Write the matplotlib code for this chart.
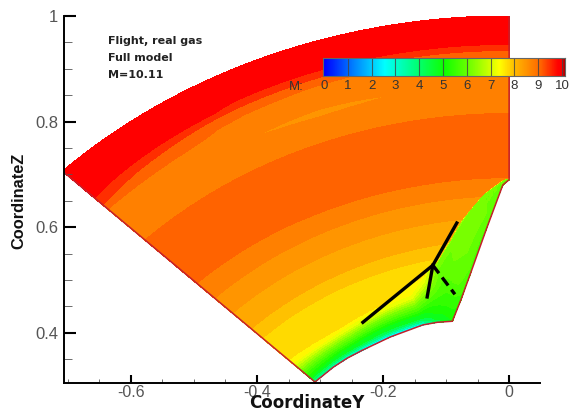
import numpy as np
import matplotlib
matplotlib.use('Agg')
import matplotlib.pyplot as plt
from matplotlib.colors import LinearSegmentedColormap, Normalize

plt.rcParams['font.family'] = ['Liberation Sans', 'DejaVu Sans']

# inner wall of the section, root to symmetry plane
wall_y = [-0.308, -0.279, -0.257, -0.233, -0.189, -0.137, -0.114, -0.090, -0.076, -0.062, -0.035, -0.010, 0.0]
wall_z = [0.307, 0.335, 0.352, 0.367, 0.392, 0.415, 0.420, 0.422, 0.464, 0.510, 0.600, 0.680, 0.690]
# radius of the top of the wall layer / shock at those stations
layer_top = [0.495, 0.492, 0.490, 0.490, 0.495, 0.500, 0.525, 0.548, 0.583, 0.620, 0.667, 0.691, 0.694]

# Mach inside the layer: rows are fraction wall to layer top, columns are wall stations
layer_frac = [0.0, 0.08, 0.2, 0.4, 0.65, 0.85, 1.0]
layer_mach = [
    [3.0, 2.8, 2.6, 2.3, 2.2, 2.4, 4.0, 5.0, 5.3, 5.5, 5.5, 5.5, 5.5],
    [4.0, 3.6, 3.4, 3.2, 3.1, 3.3, 4.6, 5.1, 5.5, 5.7, 5.7, 5.7, 5.7],
    [5.0, 4.8, 4.6, 4.5, 4.4, 4.5, 5.0, 5.2, 5.7, 5.9, 5.9, 5.9, 5.9],
    [5.6, 5.5, 5.4, 5.3, 5.2, 5.3, 5.3, 5.4, 5.9, 6.0, 6.0, 6.0, 6.0],
    [6.6, 6.5, 6.4, 6.3, 6.2, 6.2, 6.1, 5.7, 6.0, 6.1, 6.0, 6.0, 6.0],
    [7.3, 7.3, 7.2, 7.1, 7.1, 7.0, 6.9, 5.9, 6.0, 6.1, 6.0, 6.0, 6.0],
    [7.5, 7.5, 7.5, 7.45, 7.4, 7.35, 7.3, 6.3, 6.3, 6.3, 6.2, 6.2, 6.2],
]

# Mach outside the layer: rows are radius, columns are angle from the symmetry plane
outer_phi = [45, 30, 27.5, 20, 12.5, 0]
outer_r = [0.40, 0.47, 0.49, 0.514, 0.54, 0.553, 0.578, 0.62, 0.66, 0.70, 0.745, 0.815, 0.855, 0.87, 0.885,
           0.899, 0.911, 0.92, 0.929, 0.94, 0.95, 0.966, 1.0]
outer_mach = [
    [7.45, 7.45, 7.4, 7.3, 7.25, 7.25],
    [7.5, 7.5, 7.45, 7.35, 7.3, 7.3],
    [7.55, 7.55, 7.52, 7.45, 7.35, 7.35],
    [7.6, 7.6, 7.6, 7.52, 7.42, 7.42],
    [7.7, 7.7, 7.7, 7.65, 7.5, 7.5],
    [7.75, 7.75, 7.75, 7.75, 7.75, 7.75],
    [8.0, 8.0, 8.0, 8.0, 8.0, 8.0],
    [8.25, 8.25, 8.25, 8.25, 8.25, 8.25],
    [8.5, 8.5, 8.5, 8.5, 8.5, 8.5],
    [8.8, 8.82, 8.83, 8.84, 8.85, 8.85],
    [8.95, 8.95, 8.95, 8.95, 8.95, 8.95],
    [8.8, 8.8, 8.8, 8.8, 8.8, 8.8],
    [8.65, 8.65, 8.65, 8.65, 8.65, 8.65],
    [8.65, 8.62, 8.5, 8.35, 8.5, 8.65],
    [8.7, 8.7, 8.68, 8.68, 8.68, 8.68],
    [8.8, 8.72, 8.7, 8.7, 8.7, 8.7],
    [9.2, 8.78, 8.76, 8.75, 8.73, 8.73],
    [9.35, 8.92, 8.84, 8.8, 8.77, 8.77],
    [9.6, 9.15, 9.1, 9.05, 8.95, 8.95],
    [9.75, 9.6, 9.5, 9.4, 9.4, 9.4],
    [9.8, 9.75, 9.7, 9.7, 9.7, 9.7],
    [9.9, 9.9, 9.9, 9.9, 9.9, 9.9],
    [10.0, 10.0, 10.0, 10.0, 10.0, 10.0],
]

band_levels = [0, 1, 2, 3, 3.5, 4, 4.5, 5, 5.25, 5.5, 5.75, 6, 6.25, 6.5, 6.75, 7, 7.25, 7.5, 7.75, 8, 8.25, 8.5, 8.8, 9.2, 9.6, 10.0]

# black lines over the field
line_a_y = [-0.232, -0.121, -0.083]
line_a_z = [0.420, 0.528, 0.608]
line_b_y = [-0.121, -0.130]
line_b_z = [0.528, 0.468]
line_c_y = [-0.121, -0.086]
line_c_z = [0.528, 0.473]

note_lines = ['Flight, real gas', 'Full model', 'M=10.11']
bar_ticks = [0, 1, 2, 3, 4, 5, 6, 7, 8, 9, 10]

W, H = 570, 413
cmap = LinearSegmentedColormap.from_list('mach', [
    (0.0, '#0000ff'), (0.12, '#0080ff'), (0.25, '#00ffff'), (0.375, '#00ff80'),
    (0.5, '#10ff00'), (0.62, '#80ff00'), (0.73, '#ffff00'), (0.80, '#ffb400'),
    (0.90, '#ff6600'), (0.975, '#ff0000'), (0.992, '#ff0000'), (1.0, '#b00000')])
norm = Normalize(0, 10)


def lookup(table, rows, cols, r, c):
    # bilinear read of a table at points r, c
    ic = np.clip(np.searchsorted(cols, c) - 1, 0, len(cols) - 2)
    ir = np.clip(np.searchsorted(rows, r) - 1, 0, len(rows) - 2)
    tc = np.clip((c - cols[ic]) / (cols[ic + 1] - cols[ic]), 0, 1)
    tr = np.clip((r - rows[ir]) / (rows[ir + 1] - rows[ir]), 0, 1)
    low = table[ir, ic] * (1 - tc) + table[ir, ic + 1] * tc
    high = table[ir + 1, ic] * (1 - tc) + table[ir + 1, ic + 1] * tc
    return low * (1 - tr) + high * tr


fig = plt.figure(figsize=(W / 100, H / 100), dpi=100)
ax = fig.add_axes([63.5 / W, (H - 382.5) / H, (540 - 63.5) / W, 366.5 / H])

wy = np.array(wall_y)
wz = np.array(wall_z)
wall_phi = np.degrees(np.arctan2(-wy, wz))
wall_r = np.hypot(wy, wz)
order = np.argsort(wall_phi)
st_phi = wall_phi[order]
st_r = wall_r[order]
st_top = np.array(layer_top)[order]
st_mach = np.array(layer_mach)[:, order]

# fine polar grid, wall to outer radius
phi_f = np.linspace(st_phi[0], st_phi[-1], 500)
eta_f = np.linspace(0, 1, 700)
P, E = np.meshgrid(phi_f, eta_f)
rw = np.interp(P, st_phi, st_r)
rt = np.interp(P, st_phi, st_top)
R = rw + E * (1 - rw)
Y = -R * np.sin(np.radians(P))
Z = R * np.cos(np.radians(P))
frac = (R - rw) / (rt - rw)
M_out = lookup(np.array(outer_mach)[:, ::-1], np.array(outer_r), np.array(outer_phi[::-1], dtype=float), R, P)
M_in = lookup(st_mach, np.array(layer_frac), st_phi, frac, P)
M = np.where(frac < 1, M_in, M_out)

cs = ax.contourf(Y, Z, M, levels=band_levels, cmap=cmap, norm=norm)
cs.set_edgecolor('face')
cs.set_linewidth(0.3)

# red outline
edge = '#c4202c'
ax.plot(np.r_[wy[0] / wall_r[0], wy, 0, 0], np.r_[wz[0] / wall_r[0], wz, 0.69, 1], color=edge, lw=1.1)

ax.plot(line_a_y, line_a_z, color='k', lw=2.4)
ax.plot(line_b_y, line_b_z, color='k', lw=2.4)
ax.plot(line_c_y, line_c_z, color='k', lw=2.4, dashes=(3, 1.6))

ax.set_xlim(-0.707, 0.049)
ax.set_ylim(0.306, 1.0)
ax.spines['top'].set_visible(False)
ax.spines['right'].set_visible(False)
ax.spines['left'].set_linewidth(1.4)
ax.spines['bottom'].set_linewidth(1.4)
ax.set_xticks([-0.6, -0.4, -0.2, 0])
ax.set_xticklabels(['-0.6', '-0.4', '-0.2', '0'])
ax.set_yticks([0.4, 0.6, 0.8, 1])
ax.set_yticklabels(['0.4', '0.6', '0.8', '1'])
ax.set_xticks(np.arange(-0.70, 0.04, 0.05), minor=True)
ax.set_yticks(np.arange(0.35, 1.0, 0.05), minor=True)
ax.tick_params(axis='x', which='major', direction='in', length=6, width=1.5, labelsize=11.5, labelcolor='#555555', pad=1.5)
ax.tick_params(axis='y', which='major', direction='in', length=8.5, width=1.5, labelsize=12, labelcolor='#555555', pad=4)
ax.tick_params(axis='x', which='minor', direction='in', length=3, width=0.6, color='#555555')
ax.tick_params(axis='y', which='minor', direction='in', length=6, width=0.6, color='#555555')

fig.text(307 / W, 1 / H, 'CoordinateY', family='DejaVu Sans', weight='bold', fontsize=12, ha='center', va='bottom', color='#111111')
fig.text(19 / W, (H - 201) / H, 'CoordinateZ', weight='bold', fontsize=11.8, rotation=90, ha='center', va='center', color='#111111')

for py, s in zip([41, 58, 75], note_lines):
    fig.text(108 / W, (H - py) / H, s, family='DejaVu Sans', weight='bold', fontsize=8, ha='left', va='center', color='#222222')

# colour bar, drawn across the axes edge
bar = fig.add_axes([323 / W, (H - 76) / H, 242 / W, 18 / H])
grad = np.linspace(0, 10.1, 400)[None, :]
bar.imshow(grad, extent=[0, 10.1, 0, 1], aspect='auto', cmap=cmap, norm=Normalize(0, 10.1), interpolation='bilinear')
bar.set_xlim(-0.04, 10.13)
bar.set_ylim(0, 1)
for t in bar_ticks[1:]:
    bar.axvline(t, color='#444444', lw=0.8, alpha=0.8)
for s in bar.spines.values():
    s.set_linewidth(0.8)
    s.set_color('#666666')
bar.set_yticks([])
bar.set_xticks(bar_ticks)
bar.tick_params(axis='x', length=0, labelsize=9.5, labelcolor='#333333', pad=3)
bar.patch.set_alpha(0)
fig.text(296 / W, (H - 86.5) / H, 'M:', fontsize=9.5, ha='center', va='center', color='#333333')

fig.savefig('out.png', dpi=100)
